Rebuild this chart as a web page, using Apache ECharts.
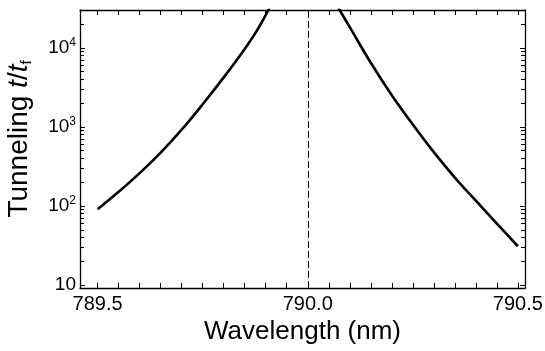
<!DOCTYPE html>
<html>
<head>
<meta charset="utf-8">
<script src="https://cdn.jsdelivr.net/npm/echarts@6/dist/echarts.min.js"></script>
<style>
  html, body { margin: 0; padding: 0; background: #fff; }
  #chart { width: 545px; height: 351px; }
</style>
</head>
<body>
<div id="chart"></div>
<script>
// branch below the resonance (nm, t/tf)
var leftWl  = [789.50, 789.55, 789.60, 789.65, 789.70, 789.75, 789.80, 789.85, 789.88, 789.91];
var leftVal = [91, 151, 260, 473, 923, 1930, 4220, 9660, 16800, 32800];
// branch above the resonance
var rightWl  = [790.07, 790.10, 790.15, 790.20, 790.25, 790.30, 790.35, 790.40, 790.45, 790.50];
var rightVal = [33900, 18200, 6460, 2510, 1070, 479, 229, 117, 60, 31];
var resonance = 790.0;

var xMin = 789.458, xMax = 790.517;
var yMin = 9.2, yMax = 30000;

var xLabels = [789.5, 790.0, 790.5];
var xTicks = [789.5, 789.55, 789.6, 789.65, 789.7, 789.75, 789.8, 789.85, 789.9, 789.95, 790.0,
              790.05, 790.1, 790.15, 790.2, 790.25, 790.3, 790.35, 790.4, 790.45, 790.5];
var yMajor = [10, 100, 1000, 10000];
var yMinor = [20, 30, 40, 50, 60, 70, 80, 90,
              200, 300, 400, 500, 600, 700, 800, 900,
              2000, 3000, 4000, 5000, 6000, 7000, 8000, 9000,
              20000, 30000];

var font = '"Liberation Sans", Arial, Helvetica, sans-serif';
var chart = echarts.init(document.getElementById('chart'));

function pairs(xs, ys) {
  return xs.map(function (x, i) { return [x, ys[i]]; });
}

function xAxisOf(pos) {
  return {
    type: 'value',
    min: xMin,
    max: xMax,
    position: pos,
    splitLine: { show: false },
    axisLine: { show: true, lineStyle: { color: '#000', width: 1.3 } },
    axisTick: { show: true, inside: true, length: 5, customValues: xTicks, lineStyle: { color: '#000', width: 1 } },
    axisLabel: { show: false }
  };
}

function yAxisOf(pos, ticks, len, showLine) {
  return {
    type: 'log',
    logBase: 10,
    min: yMin,
    max: yMax,
    position: pos,
    splitLine: { show: false },
    axisLine: { show: showLine, lineStyle: { color: '#000', width: 1.3 } },
    axisTick: { show: true, inside: true, length: len, customValues: ticks, lineStyle: { color: '#000', width: 1 } },
    axisLabel: { show: false }
  };
}

var xBottom = xAxisOf('bottom');
xBottom.axisLabel = {
  show: true,
  customValues: xLabels,
  formatter: function (v) { return v.toFixed(1); },
  fontSize: 20, fontFamily: font, color: '#000', margin: 6
};
xBottom.name = 'Wavelength (nm)';
xBottom.nameLocation = 'middle';
xBottom.nameGap = 30;
xBottom.nameTextStyle = { fontSize: 26, fontFamily: font, color: '#000' };

var yLeft = yAxisOf('left', yMajor, 5, true);
yLeft.axisLabel = {
  show: true,
  customValues: yMajor,
  margin: 4,
  formatter: function (v) {
    var k = Math.round(Math.log(v) / Math.LN10);
    return k === 1 ? '{n|10}' : '{n|10}{s|' + k + '}';
  },
  rich: {
    n: { fontSize: 19, fontFamily: font, color: '#000', lineHeight: 22 },
    s: { fontSize: 12, fontFamily: font, color: '#000', verticalAlign: 'top', lineHeight: 22 }
  }
};
yLeft.name = '{a|Tunneling }{i|t}{a|/}{i|t}{f|f}';
yLeft.nameLocation = 'middle';
yLeft.nameGap = 46;
yLeft.nameTextStyle = {
  padding: [0, 0, 0, 20],
  rich: {
    a: { fontSize: 28, fontFamily: font, color: '#000', lineHeight: 30 },
    i: { fontSize: 28, fontFamily: font, color: '#000', fontStyle: 'italic', lineHeight: 30 },
    f: { fontSize: 15, fontFamily: font, color: '#000', verticalAlign: 'bottom', lineHeight: 30 }
  }
};

chart.setOption({
  animation: false,
  backgroundColor: '#fff',
  grid: {
    left: 80, right: 20, top: 10, bottom: 63,
    outerBounds: { left: -60, right: -60, top: -60, bottom: -60 }
  },
  xAxis: [xBottom, xAxisOf('top')],
  yAxis: [
    yLeft,
    yAxisOf('right', yMajor, 5, true),
    yAxisOf('left', yMinor, 4, false),
    yAxisOf('right', yMinor, 4, false)
  ],
  series: [
    {
      type: 'line',
      data: pairs(leftWl, leftVal),
      showSymbol: false,
      smooth: 0.4,
      clip: true,
      lineStyle: { color: '#000', width: 2.6 },
      markLine: {
        silent: true,
        symbol: 'none',
        label: { show: false },
        lineStyle: { color: '#000', width: 1, type: [7, 3] },
        data: [{ xAxis: resonance }]
      }
    },
    {
      type: 'line',
      data: pairs(rightWl, rightVal),
      showSymbol: false,
      smooth: 0.4,
      clip: true,
      lineStyle: { color: '#000', width: 2.6 }
    }
  ]
});
</script>
</body>
</html>
